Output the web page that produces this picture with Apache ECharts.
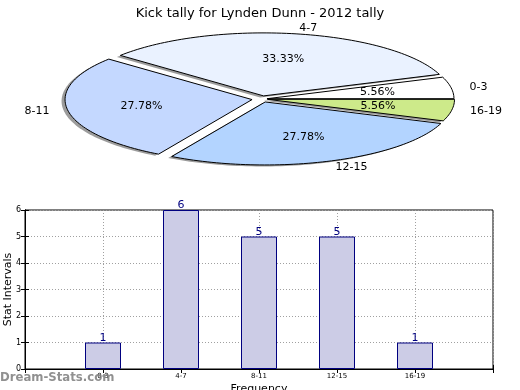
<!DOCTYPE html>
<html><head><meta charset="utf-8">
<script src="https://cdn.jsdelivr.net/npm/echarts@6/dist/echarts.min.js"></script>
<style>html,body{margin:0;padding:0;background:#fff}#c{width:520px;height:390px}</style>
</head><body><div id="c"></div>
<script>
const chartTitle = 'Kick tally for Lynden Dunn - 2012 tally';
const categories = ['0-3', '4-7', '8-11', '12-15', '16-19'];
const counts = [1, 6, 5, 5, 1];
const yTicks = [0, 1, 2, 3, 4, 5, 6];
const sliceColors = ['#ffffff', '#eaf2ff', '#c4d8ff', '#b3d4ff', '#cdea8a'];
const explode = [0.027, 0.05, 0.054, 0.05, 0.03];

const PIE = { cx: 262, cy: 99, rx: 187, ry: 63 };
const FONT = '"DejaVu Sans", Verdana, sans-serif';
const total = counts.reduce((a, b) => a + b, 0);
const starts = []; { let acc = 0; counts.forEach(v => { starts.push(acc); acc += v; }); }

function geom(i) {
  const a1 = starts[i] / total * 2 * Math.PI;
  const a2 = (starts[i] + counts[i]) / total * 2 * Math.PI;
  const mid = (a1 + a2) / 2;
  return { a1, a2, mid, ox: explode[i] * PIE.rx * Math.cos(mid), oy: -explode[i] * PIE.ry * Math.sin(mid) };
}
function slicePoints(i, dx, dy) {
  const g = geom(i);
  const x0 = PIE.cx + g.ox + dx, y0 = PIE.cy + g.oy + dy;
  const pts = [[x0, y0]];
  const n = Math.max(8, Math.ceil((g.a2 - g.a1) / (Math.PI / 120)));
  for (let k = 0; k <= n; k++) {
    const a = g.a1 + (g.a2 - g.a1) * k / n;
    pts.push([x0 + PIE.rx * Math.cos(a), y0 - PIE.ry * Math.sin(a)]);
  }
  return pts;
}

const chart = echarts.init(document.getElementById('c'), null, { renderer: 'canvas' });
const pieData = counts.map((v, i) => [i, v]);
const axisBlack = { lineStyle: { color: '#000', width: 1 } };
const dotted = { show: true, lineStyle: { color: '#a0a0a0', width: 1, type: [1, 2] } };

chart.setOption({
  animation: false,
  backgroundColor: '#fff',
  textStyle: { fontFamily: FONT },
  title: { text: chartTitle, left: 'center', top: 2, textStyle: { fontSize: 13, fontWeight: 'normal', color: '#000', fontFamily: FONT } },
  grid: { left: 25, right: 27, top: 210, bottom: 21, show: true, borderColor: '#000', borderWidth: 1, containLabel: false, outerBoundsMode: 'none' },
  xAxis: [{
    type: 'value', min: 0, max: 6, interval: 1,
    axisLine: axisBlack, axisTick: { show: true, inside: true, length: 4, lineStyle: { color: '#000' } },
    axisLabel: { formatter: v => categories[v - 1] || '', fontSize: 7, color: '#000', margin: 4, showMinLabel: true, showMaxLabel: true },
    splitLine: dotted,
    name: 'Frequency', nameLocation: 'middle', nameGap: 15, nameMoveOverlap: false, nameTextStyle: { fontSize: 11, color: '#000' }
  }, {
    type: 'value', position: 'top', min: 0, max: 6, interval: 1,
    axisLine: axisBlack, axisTick: { show: true, inside: true, length: 4, lineStyle: { color: '#000' } },
    axisLabel: { show: false }, splitLine: { show: false }
  }],
  yAxis: [{
    type: 'value', min: yTicks[0], max: yTicks[yTicks.length - 1], interval: 1,
    axisLine: axisBlack, axisTick: { show: true, inside: true, length: 4, lineStyle: { color: '#000' } },
    axisLabel: { fontSize: 8, color: '#000', margin: 4 },
    splitLine: dotted,
    name: 'Stat Intervals', nameLocation: 'middle', nameGap: 11, nameMoveOverlap: false, nameRotate: 90, nameTextStyle: { fontSize: 11, color: '#000' }
  }, {
    type: 'value', position: 'right', min: 0, max: 6, interval: 1,
    axisLine: axisBlack, axisTick: { show: true, inside: true, length: 4, lineStyle: { color: '#000' } },
    axisLabel: { show: false }, splitLine: { show: false }
  }],
  graphic: [{
    type: 'text', left: 0, top: 371, z: 100,
    style: { text: 'Dream-Stats.com', fill: 'rgba(125,125,125,0.85)', font: 'bold 13px "DejaVu Sans Condensed", "DejaVu Sans", sans-serif' }
  }],
  series: [{
    type: 'bar', xAxisIndex: 0, yAxisIndex: 0,
    data: counts.map((v, i) => [i + 1, v]),
    barWidth: 36,
    itemStyle: { color: '#ccccE6', borderColor: '#000080', borderWidth: 1 },
    label: { show: true, position: 'top', distance: -1, color: '#000080', fontSize: 11, formatter: p => p.value[1] }
  }, {
    type: 'custom', coordinateSystem: 'none', data: pieData, z: 1,
    renderItem: (params) => {
      const i = params.dataIndex;
      return { type: 'polygon', shape: { points: slicePoints(i, -3.5, 1.5) }, style: { fill: 'rgba(90,90,90,0.6)', stroke: null } };
    }
  }, {
    type: 'custom', coordinateSystem: 'none', data: pieData, z: 2,
    renderItem: (params, api) => {
      const i = params.dataIndex;
      const g = geom(i);
      const v = api.value(1);
      const cx = PIE.cx + g.ox, cy = PIE.cy + g.oy;
      const c = Math.cos(g.mid), s = Math.sin(g.mid);
      const px = cx + 0.6 * PIE.rx * c, py = cy - 0.6 * PIE.ry * s;
      const lx = cx + 1.1 * PIE.rx * c, ly = cy - 1.1 * PIE.ry * s;
      return {
        type: 'group', children: [
          { type: 'polygon', shape: { points: slicePoints(i, 0, 0) }, style: { fill: sliceColors[i], stroke: '#000', lineWidth: 1 } },
          { type: 'text', x: px, y: py, z2: 5, style: { text: (v / total * 100).toFixed(2) + '%', fill: '#000', fontSize: 11, fontFamily: FONT, align: 'center', verticalAlign: 'middle' } },
          { type: 'text', x: lx, y: ly, z2: 5, style: { text: categories[i], fill: '#000', fontSize: 11, fontFamily: FONT, align: c >= 0 ? 'left' : 'right', verticalAlign: 'middle' } }
        ]
      };
    }
  }]
});
</script></body></html>
